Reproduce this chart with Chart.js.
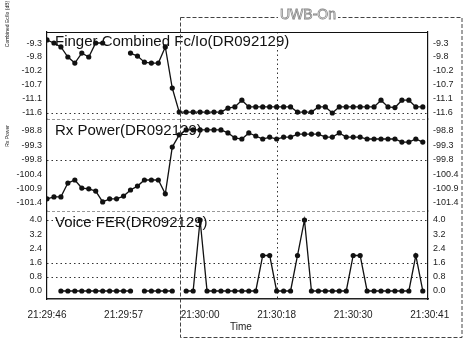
<!DOCTYPE html>
<html>
<head>
<meta charset="utf-8">
<script src="https://cdn.jsdelivr.net/npm/chart.js@4.4.0/dist/chart.umd.min.js"></script>
<style>
    html, body { margin: 0; padding: 0; background: #fff; }
    #wrap { position: relative; width: 464px; height: 340px; }
    #wrap canvas { position: absolute; left: 0; top: 0; }
</style>
</head>
<body>
<div id="wrap">
    <canvas id="fecioChart" width="464" height="340"></canvas>
    <canvas id="rxChart" width="464" height="340"></canvas>
    <canvas id="ferChart" width="464" height="340"></canvas>
</div>
<script>
// time axis (seconds from 21:29:46, one sample per second)
const timeLabels = ["21:29:46", "21:29:57", "21:30:00", "21:30:18", "21:30:30", "21:30:41"];
const timeTicks = [0, 11, 22, 33, 44, 55];
const samples = Array.from({ length: 55 }, (_, i) => i);
const uwbStart = 19.1;   // UWB switched on
const markerTime = 33;   // dotted marker line

// Finger Combined Ec/Io (dB)
const fecio = [
    -9.2, -9.3, -9.43, -9.76, -9.96, -9.63, -9.76, -9.3, -9.3, null,
    null, null, -9.63, -9.73, -9.93, -9.96, -9.96, -9.43, -10.78, -11.57,
    -11.57, -11.57, -11.57, -11.57, -11.57, -11.57, -11.44, -11.4, -11.18, -11.4,
    -11.4, -11.4, -11.4, -11.4, -11.4, -11.4, -11.57, -11.57, -11.57, -11.4,
    -11.4, -11.6, -11.4, -11.4, -11.4, -11.4, -11.4, -11.4, -11.18, -11.4,
    -11.42, -11.18, -11.18, -11.4, -11.4
];

// Rx Power
const rxPower = [
    -101.25, -101.18, -101.18, -100.68, -100.57, -100.86, -100.89, -100.97, -101.36, -101.25,
    -101.25, -101.15, -100.93, -100.79, -100.57, -100.57, -100.57, -101.07, -99.38, -98.94,
    -98.76, -98.76, -98.76, -98.76, -98.76, -98.76, -98.87, -99.05, -99.09, -98.87,
    -98.98, -99.09, -99.02, -99.09, -99.02, -99.02, -98.91, -98.91, -98.91, -98.91,
    -99.02, -99.02, -98.87, -99.02, -99.02, -99.02, -99.09, -99.09, -99.09, -99.09,
    -99.09, -99.2, -99.2, -99.09, -99.2
];

// Voice FER
const voiceFer = [
    null, null, 0, 0, 0, 0, 0, 0, 0, 0,
    0, 0, 0, null, 0, 0, 0, 0, 0, null,
    0, 0, 4.0, 0, 0, 0, 0, 0, 0, 0,
    0, 2.0, 2.0, 0, 0, 0, 2.0, 4.0, 0, 0,
    0, 0, 0, 0, 2.0, 2.0, 0, 0, 0, 0,
    0, 0, 0, 2.0, 0
];

// axis ticks and dotted grid rows
const fecioTicks = [-9.3, -9.76, -10.22, -10.68, -11.14, -11.6];
const rxTicks = [-98.8, -99.32, -99.84, -100.36, -100.88, -101.4];
const ferTicks = [4.0, 3.2, 2.4, 1.6, 0.8, 0.0];
const fecioGrid = [-11.6];
const rxGrid = [-99.84];
const ferGrid = [4.0, 1.6, 0.8];

const FONT = '"Liberation Sans", Arial, sans-serif';

function hline(ctx, x1, x2, y) {
    ctx.beginPath();
    ctx.moveTo(x1, y);
    ctx.lineTo(x2, y);
    ctx.stroke();
}

const panelDeco = {
    id: "panelDeco",
    beforeDatasetsDraw(chart, args, o) {
        const { ctx, chartArea: a, scales } = chart;
        ctx.save();
        ctx.strokeStyle = "#333";
        ctx.lineWidth = 1;
        ctx.setLineDash([1.5, 3]);
        o.grid.forEach(v => {
            const y = Math.round(scales.y.getPixelForValue(v)) + 0.5;
            hline(ctx, a.left, a.right, y);
        });
        const vx = Math.round(scales.x.getPixelForValue(markerTime)) + 0.5;
        ctx.beginPath();
        ctx.moveTo(vx, a.top);
        ctx.lineTo(vx, a.bottom);
        ctx.stroke();
        ctx.setLineDash([]);

        ctx.fillStyle = "#111";
        ctx.font = "15px " + FONT;
        ctx.textAlign = "left";
        ctx.textBaseline = "middle";
        ctx.fillText(o.title, a.left + 8, a.top + o.titleDy);

        if (o.side) {
            ctx.font = "5px " + FONT;
            ctx.translate(8, o.sideY);
            ctx.rotate(-Math.PI / 2);
            ctx.textAlign = "center";
            ctx.fillText(o.side, 0, 0);
        }
        ctx.restore();
    },
    afterDraw(chart, args, o) {
        const { ctx, chartArea: a, scales } = chart;
        ctx.save();
        if (o.topLine) {
            ctx.strokeStyle = "#111";
            ctx.lineWidth = 1.2;
            hline(ctx, a.left, a.right, Math.round(a.top) + 0.5);
        }
        if (o.divider) {
            ctx.strokeStyle = "#999";
            ctx.lineWidth = 1;
            ctx.setLineDash([3, 2]);
            hline(ctx, a.left, a.right, Math.round(a.bottom) + 0.5);
        }
        if (o.box) {
            // dashed "UWB-On" region
            const left = Math.round(scales.x.getPixelForValue(uwbStart)) + 0.5;
            ctx.strokeStyle = "#444";
            ctx.lineWidth = 1;
            ctx.setLineDash([4, 2]);
            ctx.strokeRect(left, 17.5, 462 - left, 320);
            ctx.setLineDash([]);
            ctx.font = "14px " + FONT;
            ctx.textAlign = "center";
            ctx.textBaseline = "middle";
            const w = ctx.measureText("UWB-On").width;
            ctx.fillStyle = "#fff";
            ctx.fillRect(308 - w / 2 - 2, 8, w + 4, 14);
            ctx.strokeStyle = "#888";
            ctx.lineWidth = 0.8;
            ctx.strokeText("UWB-On", 308, 15);
        }
        if (o.xTitle) {
            ctx.font = "10px " + FONT;
            ctx.fillStyle = "#222";
            ctx.textAlign = "center";
            ctx.textBaseline = "middle";
            ctx.fillText(o.xTitle, 241, 327);
        }
        ctx.restore();
    }
};

function yAxis(position, ticks, min, max) {
    return {
        type: "linear",
        position: position,
        min: min,
        max: max,
        afterBuildTicks: s => { s.ticks = ticks.map(v => ({ value: v })); },
        afterFit: s => { s.width = position === "left" ? 47 : 36; },
        grid: { display: false, drawTicks: false },
        border: { display: true, color: "#111", width: 1.2 },
        ticks: {
            padding: 5,
            color: "#222",
            font: { family: FONT, size: 9 },
            callback: v => v.toFixed(1)
        }
    };
}

function makePanel(id, values, ticks, min, max, padTop, padBottom, showX, deco) {
    return new Chart(document.getElementById(id), {
        type: "line",
        data: {
            labels: samples,
            datasets: [{
                data: values,
                borderColor: "#111",
                borderWidth: 1.3,
                pointRadius: 2.6,
                pointBackgroundColor: "#111",
                pointBorderWidth: 0,
                tension: 0,
                spanGaps: false
            }]
        },
        options: {
            responsive: false,
            animation: false,
            events: [],
            layout: { padding: { top: padTop, bottom: padBottom, left: 0, right: 0 } },
            plugins: {
                legend: { display: false },
                tooltip: { enabled: false },
                panelDeco: deco
            },
            scales: {
                x: {
                    type: "linear",
                    min: 0,
                    max: 54.75,
                    display: showX,
                    afterBuildTicks: s => { s.ticks = timeTicks.map(v => ({ value: v })); },
                    afterFit: s => { if (showX) s.height = 41; },
                    grid: { display: false, drawTicks: false },
                    border: { display: true, color: "#222", width: 1.5 },
                    ticks: {
                        autoSkip: false,
                        maxRotation: 0,
                        padding: 10,
                        color: "#222",
                        font: { family: FONT, size: 10 },
                        callback: (v, i) => timeLabels[i]
                    }
                },
                y: yAxis("left", ticks, min, max),
                y2: yAxis("right", ticks, min, max)
            }
        },
        plugins: [panelDeco]
    });
}

makePanel("fecioChart", fecio, fecioTicks, -11.797, -8.938, 32, 221, false, {
    grid: fecioGrid, title: "Finger Combined Fc/Io(DR092129)", titleDy: 9.5,
    side: "Combined Ec/Io (dB)", sideY: 24, topLine: true, divider: true
});
makePanel("rxChart", rxPower, rxTicks, -101.689, -98.367, 119, 129, false, {
    grid: rxGrid, title: "Rx Power(DR092129)", titleDy: 12,
    side: "Rx Power", sideY: 136, divider: true
});
makePanel("ferChart", voiceFer, ferTicks, -0.451, 4.507, 211, 0, true, {
    grid: ferGrid, title: "Voice FER(DR092129)", titleDy: 11.5, box: true, xTitle: "Time"
});
</script>
</body>
</html>
